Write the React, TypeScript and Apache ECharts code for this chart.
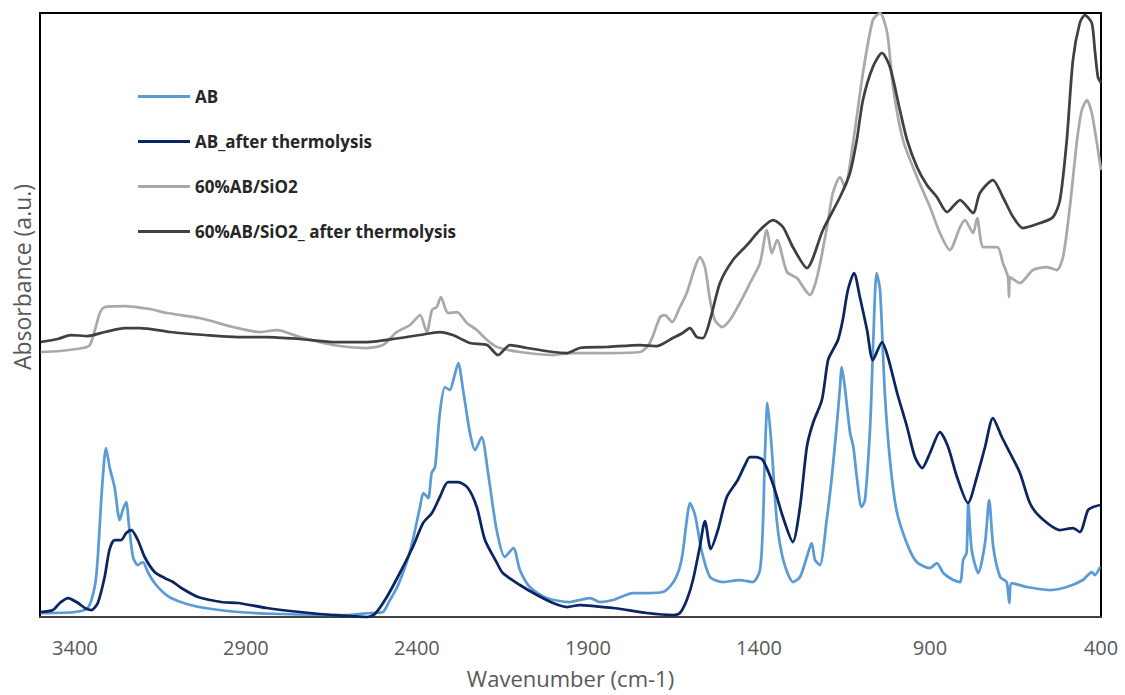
import React, { useEffect, useRef } from "react";
import * as echarts from "echarts";

// FTIR spectra: [wavenumber (cm-1), absorbance (a.u.)]
const seriesNames = ["AB", "AB_after thermolysis", "60%AB/SiO2", "60%AB/SiO2_ after thermolysis"];
const seriesColors = ["#5B9BD5", "#0B2562", "#A9A9A9", "#404040"];

const ab: number[][] = [
  [3500,4],[3400,5],[3362,9],[3341,32],[3333,60],[3321,127],[3309,169],[3298,149],[3284,130],[3269,97],[3260,107],[3250,115],[3242,92],[3230,60],[3216,52],[3201,55],[3187,45],[3167,34],[3143,25],[3119,19],[3073,13],[3020,9],[2923,5],[2800,3],[2600,2],[2537,4],[2500,5],[2479,17],[2459,29],[2441,44],[2426,59],[2412,77],[2391,110],[2381,124],[2367,119],[2357,144],[2347,150],[2333,204],[2318,230],[2304,227],[2292,239],[2279,254],[2265,227],[2245,184],[2230,167],[2211,180],[2192,144],[2167,87],[2143,60],[2118,69],[2099,47],[2070,30],[2021,19],[1953,15],[1924,17],[1894,19],[1865,15],[1827,17],[1768,24],[1728,24],[1681,25],[1652,34],[1634,47],[1623,64],[1611,97],[1602,114],[1587,102],[1568,67],[1543,40],[1505,35],[1456,37],[1418,35],[1397,47],[1388,97],[1383,157],[1375,214],[1363,170],[1348,97],[1329,57],[1300,35],[1280,40],[1260,60],[1246,74],[1236,57],[1222,52],[1202,97],[1187,140],[1173,190],[1163,230],[1158,250],[1149,230],[1134,185],[1124,170],[1114,140],[1100,110],[1090,117],[1075,190],[1066,274],[1056,344],[1046,327],[1032,224],[1017,157],[998,107],[968,74],[939,55],[900,49],[880,54],[861,44],[832,37],[812,35],[803,57],[793,64],[788,114],[778,67],[759,44],[739,74],[727,117],[715,70],[695,40],[676,35],[668,14],[661,34],[617,30],[549,27],[500,30],[453,37],[427,45],[418,42],[403,50]
];

const abAfter: number[][] = [
  [3500,5],[3464,7],[3444,14],[3420,19],[3391,14],[3371,9],[3352,7],[3333,14],[3313,40],[3299,67],[3284,77],[3265,77],[3250,84],[3235,87],[3216,77],[3196,60],[3167,45],[3138,39],[3113,35],[3089,29],[3040,20],[2972,15],[2923,14],[2839,9],[2742,5],[2646,2],[2546,0],[2523,3],[2488,20],[2450,44],[2412,70],[2382,94],[2356,104],[2333,120],[2309,135],[2280,135],[2251,129],[2225,110],[2201,77],[2166,54],[2149,44],[2099,32],[2049,22],[2002,14],[1961,10],[1924,12],[1827,9],[1728,4],[1652,2],[1631,4],[1611,17],[1593,37],[1573,70],[1558,96],[1541,68],[1520,87],[1494,120],[1462,137],[1441,152],[1427,160],[1409,160],[1389,157],[1360,134],[1330,100],[1301,75],[1280,110],[1260,170],[1242,194],[1216,217],[1198,257],[1184,267],[1169,277],[1155,297],[1140,327],[1122,344],[1105,320],[1084,287],[1067,257],[1040,275],[1023,260],[996,224],[967,190],[944,160],[923,149],[900,164],[871,185],[847,170],[821,140],[789,114],[763,140],[739,170],[716,199],[690,180],[666,164],[637,144],[608,114],[578,100],[520,87],[482,89],[462,85],[438,107],[423,110],[403,112]
];

const abSiO2: number[][] = [
  [3500,265],[3444,266],[3377,269],[3356,272],[3339,290],[3327,304],[3312,310],[3254,311],[3181,308],[3131,304],[3035,299],[2938,290],[2859,285],[2809,287],[2742,280],[2646,272],[2546,269],[2499,272],[2459,285],[2420,292],[2391,302],[2371,285],[2356,307],[2342,310],[2330,320],[2309,304],[2283,305],[2254,294],[2225,287],[2195,277],[2166,270],[2099,265],[2002,262],[1944,264],[1836,264],[1748,265],[1719,274],[1689,300],[1675,302],[1654,295],[1631,310],[1611,324],[1587,350],[1573,360],[1558,350],[1543,317],[1529,297],[1508,290],[1485,297],[1456,314],[1426,334],[1397,354],[1377,387],[1362,364],[1347,377],[1318,345],[1289,339],[1271,330],[1251,322],[1230,340],[1201,390],[1184,424],[1163,440],[1149,430],[1125,474],[1096,544],[1067,597],[1046,604],[1025,584],[1008,530],[979,477],[938,440],[900,410],[871,384],[842,367],[812,390],[798,397],[774,384],[762,399],[744,370],[703,370],[687,354],[672,340],[669,320],[666,340],[637,334],[599,347],[558,350],[529,347],[511,360],[491,410],[470,477],[456,507],[441,517],[427,504],[412,474],[400,447]
];

const abSiO2After: number[][] = [
  [3500,275],[3450,278],[3412,282],[3362,281],[3312,285],[3254,289],[3210,289],[3122,285],[3020,282],[2923,280],[2839,280],[2742,278],[2646,275],[2546,275],[2450,279],[2391,282],[2333,285],[2295,282],[2245,274],[2195,272],[2163,262],[2128,272],[2078,269],[2002,265],[1961,264],[1924,269],[1844,270],[1748,272],[1698,271],[1652,279],[1623,284],[1602,289],[1582,280],[1564,279],[1543,297],[1514,334],[1476,357],[1435,372],[1397,387],[1359,397],[1330,390],[1301,370],[1260,349],[1213,387],[1163,420],[1134,444],[1114,477],[1096,517],[1067,550],[1040,564],[1017,550],[988,507],[967,477],[938,450],[909,432],[880,420],[850,405],[812,417],[774,404],[754,424],[716,437],[687,420],[657,400],[628,389],[578,394],[540,400],[520,417],[500,477],[482,557],[462,594],[447,602],[427,594],[418,567],[409,540],[400,534]
];

const seriesData = [ab, abAfter, abSiO2, abSiO2After];

export default function App() {
  const ref = useRef<HTMLDivElement>(null);
  useEffect(() => {
    if (!ref.current) return;
    const chart = echarts.init(ref.current, undefined, { renderer: "svg" });
    const font = "'Open Sans', 'Noto Sans', sans-serif";
    chart.setOption({
      animation: false,
      backgroundColor: "#ffffff",
      grid: {
        left: 40,
        right: 24,
        top: 13,
        bottom: 78,
        show: true,
        borderColor: "#000000",
        borderWidth: 2,
        backgroundColor: "transparent",
      },
      legend: {
        orient: "vertical",
        left: 138,
        top: 88,
        padding: 0,
        itemWidth: 52,
        itemHeight: 3,
        itemGap: 28,
        selectedMode: false,
        icon: "rect",
        textStyle: { fontFamily: font, fontSize: 17, fontWeight: "bold", color: "#262626" },
        data: seriesNames.map((n, i) => ({
          name: n,
          itemStyle: { color: seriesColors[i] },
        })),
      },
      xAxis: {
        type: "value",
        inverse: true,
        min: 400,
        max: 3502,
        interval: 500,
        name: "Wavenumber (cm-1)",
        nameLocation: "middle",
        nameGap: 50,
        nameTextStyle: { fontFamily: font, fontSize: 22, color: "#595959" },
        axisLine: { show: true, lineStyle: { color: "#404040", width: 2 } },
        axisTick: { show: false },
        splitLine: { show: false },
        axisLabel: {
          fontFamily: font,
          fontSize: 20,
          color: "#595959",
          margin: 20,
          showMaxLabel: false,
          formatter: (v: number) => (v % 100 === 0 ? String(v) : ""),
        },
      },
      yAxis: {
        type: "value",
        min: 0,
        max: 604,
        show: false,
        splitLine: { show: false },
      },
      graphic: [
        {
          type: "text",
          x: 22,
          y: 277,
          rotation: Math.PI / 2,
          style: {
            text: "Absorbance (a.u.)",
            fontFamily: font,
            fontSize: 23,
            fill: "#595959",
            textAlign: "center",
            textVerticalAlign: "middle",
          },
        },
      ],
      series: seriesNames.map((n, i) => ({
        name: n,
        type: "line",
        data: seriesData[i],
        symbol: "none",
        smooth: 0.25,
        lineStyle: { color: seriesColors[i], width: 2.75 },
        itemStyle: { color: seriesColors[i] },
        z: 2 + i,
      })),
    });
    return () => chart.dispose();
  }, []);
  return (
    <div
      ref={ref}
      style={{ position: "absolute", left: 0, top: 0, width: 1125, height: 695 }}
    />
  );
}
